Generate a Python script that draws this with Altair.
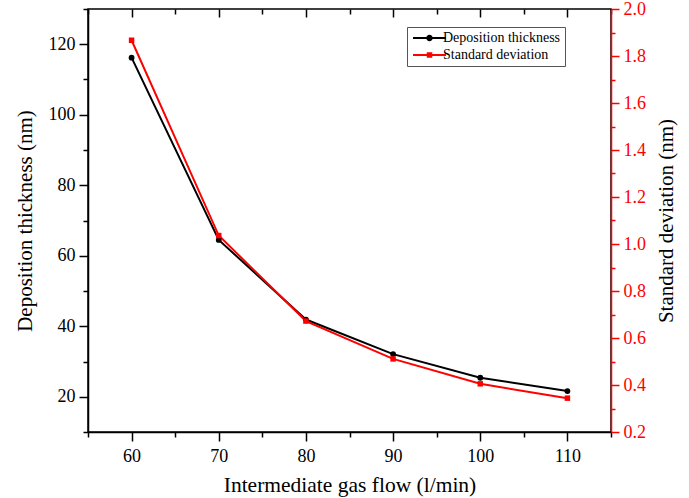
import altair as alt
import pandas as pd

# ---- data ----
flow = [60, 70, 80, 90, 100, 110]
thickness = [116.2, 64.5, 41.9, 32.1, 25.4, 21.6]
std_dev = [1.867, 1.036, 0.672, 0.511, 0.405, 0.344]
series_names = ["Deposition thickness", "Standard deviation"]

x_major = [60, 70, 80, 90, 100, 110]
x_minor = [55, 65, 75, 85, 95, 105, 115]
yl_major = [20, 40, 60, 80, 100, 120]
yl_minor = [10, 30, 50, 70, 90, 110, 130]
yr_major = [0.2, 0.4, 0.6, 0.8, 1.0, 1.2, 1.4, 1.6, 1.8, 2.0]
yr_minor = [0.3, 0.5, 0.7, 0.9, 1.1, 1.3, 1.5, 1.7, 1.9]

df_t = pd.DataFrame({"flow": flow, "value": thickness, "series": series_names[0]})
df_s = pd.DataFrame({"flow": flow, "value": std_dev, "series": series_names[1]})

FONT = "Times New Roman, Liberation Serif, serif"
RED = "#ff0000"
BLACK = "#000000"

xscale = alt.Scale(domain=[55, 115], nice=False, zero=False)
ylscale = alt.Scale(domain=[10, 130], nice=False, zero=False)
yrscale = alt.Scale(domain=[0.2, 2.0], nice=False, zero=False)

NOAXIS = dict(labels=False, ticks=False, domain=False, title="", grid=False)


def xenc(**ax):
    return alt.X("flow:Q", scale=xscale, axis=alt.Axis(**ax))


def yenc(scale, **ax):
    return alt.Y("value:Q", scale=scale, axis=alt.Axis(**ax))


# main black series (bottom x axis + left y axis)
black_line = alt.Chart(df_t).mark_line(color=BLACK, strokeWidth=2).encode(
    x=xenc(values=x_major, title="Intermediate gas flow (l/min)", orient="bottom",
           tickSize=9, tickWidth=1.5, domainWidth=1.5, domainColor=BLACK, tickColor=BLACK,
           labelFont=FONT, labelFontSize=18, labelColor=BLACK, labelPadding=6,
           titleFont=FONT, titleFontSize=21.5, titleFontWeight="normal", titleColor=BLACK,
           titlePadding=9, grid=False),
    y=yenc(ylscale, values=yl_major, title="Deposition thickness (nm)", orient="left",
           tickSize=9, tickWidth=1.5, domainWidth=1.5, domainColor=BLACK, tickColor=BLACK,
           labelFont=FONT, labelFontSize=18, labelColor=BLACK, labelPadding=4,
           titleFont=FONT, titleFontSize=21, titleFontWeight="normal", titleColor=BLACK,
           titlePadding=13, grid=False),
)

black_pts = alt.Chart(df_t).mark_point(shape="circle", filled=True, color=BLACK,
                                       size=34, opacity=1).encode(
    x=xenc(**NOAXIS), y=yenc(ylscale, **NOAXIS))

# red series (right axis)
red_line = alt.Chart(df_s).mark_line(color=RED, strokeWidth=2).encode(
    x=xenc(**NOAXIS),
    y=yenc(yrscale, values=yr_major, title="Standard deviation (nm)", orient="right",
           format=".1f", tickSize=8, tickWidth=1.5, domainWidth=1.5, domainColor=RED,
           tickColor=RED, labelFont=FONT, labelFontSize=18, labelColor=RED, labelPadding=4,
           titleFont=FONT, titleFontSize=21, titleFontWeight="normal", titleColor=BLACK,
           titlePadding=10, titleAngle=270, titleBaseline="top", grid=False),
)

red_pts = alt.Chart(df_s).mark_point(shape="square", filled=True, color=RED,
                                     size=30, opacity=1).encode(
    x=xenc(**NOAXIS), y=yenc(yrscale, **NOAXIS))

# minor ticks
x_minor_layer = alt.Chart(df_t).mark_point(opacity=0).encode(
    x=xenc(values=x_minor, labels=False, domain=False, title="", orient="bottom",
           tickSize=5, tickWidth=1.5, tickColor=BLACK, grid=False),
    y=yenc(ylscale, **NOAXIS))

yl_minor_layer = alt.Chart(df_t).mark_point(opacity=0).encode(
    x=xenc(**NOAXIS),
    y=yenc(ylscale, values=yl_minor, labels=False, domain=False, title="", orient="left",
           tickSize=5, tickWidth=1.5, tickColor=BLACK, grid=False))

yr_minor_layer = alt.Chart(df_s).mark_point(opacity=0).encode(
    x=xenc(**NOAXIS),
    y=yenc(yrscale, values=yr_minor, labels=False, domain=False, title="", orient="right",
           tickSize=4, tickWidth=1.5, tickColor=RED, grid=False))

# top inward ticks
top_major = alt.Chart(df_t).mark_point(opacity=0).encode(
    x=xenc(values=x_major, labels=False, domain=False, title="", orient="top",
           tickSize=8, offset=-8, tickWidth=1.5, tickColor=BLACK, grid=False),
    y=yenc(ylscale, **NOAXIS))

top_minor = alt.Chart(df_t).mark_point(opacity=0).encode(
    x=xenc(values=x_minor, labels=False, domain=False, title="", orient="top",
           tickSize=5, offset=-5, tickWidth=1.5, tickColor=BLACK, grid=False),
    y=yenc(ylscale, **NOAXIS))

# legend (line + marker symbols as custom paths; size 100 -> 5 px per unit)
path_circle = ("M-1,-0.2H5.6V0.2H-1Z "
               "M2.95,0A0.65,0.65 0 1,1 1.65,0A0.65,0.65 0 1,1 2.95,0Z")
path_square = "M-1,-0.2H5.6V0.2H-1Z M1.75,-0.55H2.85V0.55H1.75Z"

legend_layer = alt.Chart(df_t).mark_point(opacity=0, filled=True, size=100).encode(
    x=xenc(**NOAXIS), y=yenc(ylscale, **NOAXIS),
    color=alt.Color("series:N",
                    scale=alt.Scale(domain=series_names, range=[BLACK, RED]),
                    legend=alt.Legend(title=None)),
    shape=alt.Shape("series:N",
                    scale=alt.Scale(domain=series_names, range=[path_circle, path_square]),
                    legend=alt.Legend(title=None)),
)

chart = alt.layer(
    x_minor_layer, yl_minor_layer, yr_minor_layer, top_major, top_minor,
    black_line, red_line, black_pts, red_pts, legend_layer,
).resolve_scale(
    x="independent", y="independent"
).resolve_axis(
    x="independent", y="independent"
).properties(
    width=523, height=423,
    padding={"left": 88, "top": 9, "right": 78, "bottom": 66},
    autosize=alt.AutoSizeParams(type="none"),
    background="white",
).configure_view(
    stroke=BLACK, strokeWidth=1.5
).configure_axis(
    labelFont=FONT, titleFont=FONT
).configure_legend(
    orient="none", legendX=319, legendY=18,
    symbolSize=100, symbolStrokeWidth=0, symbolOpacity=1,
    labelFont=FONT, labelFontSize=14, labelColor=BLACK, labelOffset=18,
    strokeColor="#555555", fillColor="white", padding=4, rowPadding=3,
)

chart.save("out.html", embed_options={"renderer": "svg", "actions": False})
